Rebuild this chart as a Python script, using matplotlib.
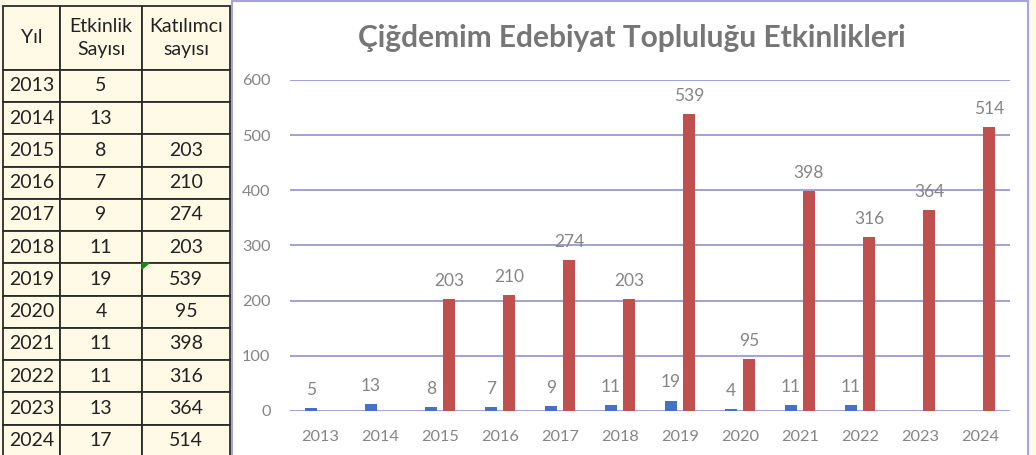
import numpy as np
import matplotlib.pyplot as plt
from matplotlib.patches import Rectangle, Polygon

years = [2013, 2014, 2015, 2016, 2017, 2018, 2019, 2020, 2021, 2022, 2023, 2024]
etkinlik = [5, 13, 8, 7, 9, 11, 19, 4, 11, 11, 13, 17]
katilimci = [None, None, 203, 210, 274, 203, 539, 95, 398, 316, 364, 514]
# the chart itself only plots events up to 2022
chart_etkinlik = [5, 13, 8, 7, 9, 11, 19, 4, 11, 11, None, None]
headers = ['Yıl', 'Etkinlik\nSayısı', 'Katılımcı\nsayısı']
title = 'Çiğdemim Edebiyat Topluluğu Etkinlikleri'

W, H = 1036, 455
cream = '#fefae6'
blue = '#4472c4'
red = '#c0504d'
grid_c = '#9a9ad6'
gray = '#858585'
plt.rcParams['font.family'] = ['Lato', 'DejaVu Sans']

fig = plt.figure(figsize=(W / 100, H / 100), dpi=100, facecolor=cream)

# ---- table on the left ----
ax_t = fig.add_axes([0, 0, 232 / W, 1])
ax_t.axis('off')
cells = [[str(y), str(e), '' if k is None else str(k)]
         for y, e, k in zip(years, etkinlik, katilimci)]
tbl = ax_t.table(cellText=cells, colLabels=headers, cellLoc='center',
                 bbox=[3 / 232, -0.004, 227 / 232, 451 / 455])
tbl.auto_set_font_size(False)
col_w = [57, 82, 88]
for (r, c), cell in tbl.get_celld().items():
    cell.set_width(col_w[c])
    cell.set_height(64 if r == 0 else 32.3)
    cell.set_facecolor(cream)
    cell.set_edgecolor('#2b2b2b')
    cell.set_linewidth(1.3)
    cell.get_text().set_color('#222222')
    cell.get_text().set_fontsize(14)
    if r == 0:
        cell.get_text().set_linespacing(1.4)

# little green marker in the 2019 cell
fig.patches.append(Polygon([(142 / W, 1 - 263 / H), (149 / W, 1 - 263 / H),
                            (142 / W, 1 - 269 / H)], closed=True,
                           transform=fig.transFigure, color='#1a8a1a', zorder=5))

# ---- chart on the right ----
fig.patches.append(Rectangle((232 / W, -0.02), (1028 - 232) / W, 1.02 - 1 / H,
                             transform=fig.transFigure, facecolor='white',
                             edgecolor='#a5a5da', linewidth=1.5, zorder=-1))

ax = fig.add_axes([290 / W, 44 / H, 720 / W, 331 / H])
ax.set_facecolor('none')
x = np.arange(len(years))
bw = 0.21
ev = np.array([np.nan if v is None else v for v in chart_etkinlik], dtype=float)
kt = np.array([np.nan if v is None else v for v in katilimci], dtype=float)
ax.bar(x - 0.15, np.nan_to_num(ev), bw, color=blue, zorder=3)
ax.bar(x + 0.15, np.nan_to_num(kt), bw, color=red, zorder=3)

for xi, v in zip(x, ev):
    if not np.isnan(v):
        ax.annotate(f'{int(v)}', (xi - 0.15, v), xytext=(0, 13), textcoords='offset points',
                    ha='center', va='center', fontsize=12.5, color=gray)
for xi, v in zip(x, kt):
    if not np.isnan(v):
        ax.annotate(f'{int(v)}', (xi + 0.15, v), xytext=(0, 13), textcoords='offset points',
                    ha='center', va='center', fontsize=12.5, color=gray)

ax.set_xlim(-0.5, len(years) - 0.5)
ax.set_ylim(0, 600)
ax.set_yticks(range(0, 601, 100))
ax.set_xticks(x)
ax.set_xticklabels([str(y) for y in years])
ax.tick_params(length=0, labelsize=11.8, labelcolor=gray)
ax.tick_params(axis='y', pad=14)
ax.tick_params(axis='x', pad=14)
ax.grid(axis='y', color=grid_c, linewidth=1.3, zorder=0)
for s in ax.spines.values():
    s.set_visible(False)
ax.set_axisbelow(True)

fig.text(632 / W, 1 - 38 / H, title, ha='center', va='center',
         fontsize=21.5, fontweight='bold', color='#767676')

fig.savefig('out.png', dpi=100, facecolor=cream)
